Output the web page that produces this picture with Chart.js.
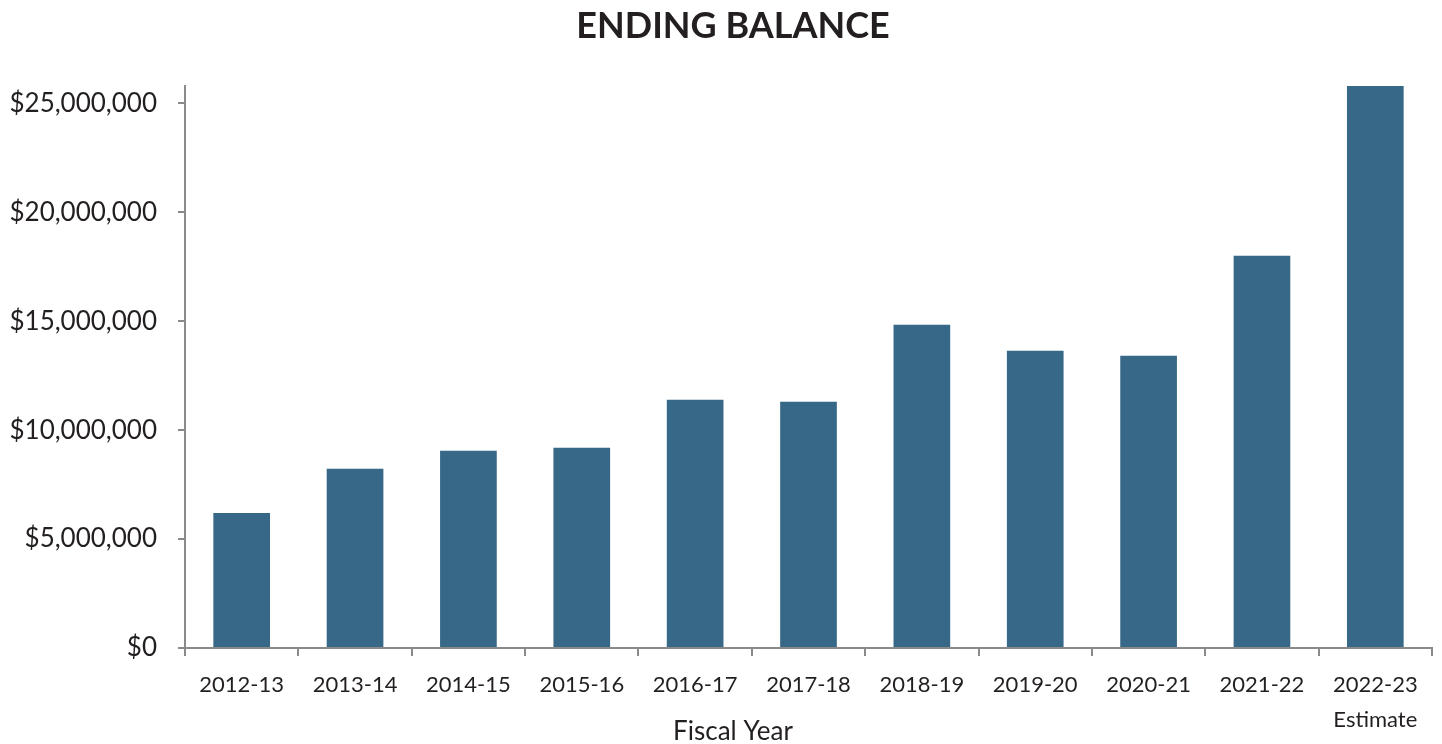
<!DOCTYPE html>
<html>
<head>
<meta charset="utf-8">
<script src="https://cdn.jsdelivr.net/npm/chart.js@4.4.1/dist/chart.umd.min.js"></script>
<style>
  html, body { margin: 0; padding: 0; background: #fff; }
  #wrap { width: 1442px; height: 744px; position: relative; }
</style>
</head>
<body>
<div id="wrap"><canvas id="js-canvas-balance"></canvas></div>
<script>
const fiscalYears = [
  '2012-13', '2013-14', '2014-15', '2015-16', '2016-17', '2017-18',
  '2018-19', '2019-20', '2020-21', '2021-22', ['2022-23', 'Estimate']
];
const endingBalance = [
  6200000, 8230000, 9050000, 9190000, 11400000, 11310000,
  14840000, 13650000, 13420000, 18010000, 25800000
];
const yTicks = [0, 5000000, 10000000, 15000000, 20000000, 25000000];

const chartTitle = 'ENDING BALANCE';
const xAxisTitle = 'Fiscal Year';

const FONT = 'Lato, "Open Sans", sans-serif';
const TEXT = '#231f20';
const AXIS = '#8a8a8a';

// title and axis caption share the same centre line
const captions = {
  id: 'captions',
  afterDraw (chart) {
    const c = chart.ctx;
    c.save();
    c.fillStyle = TEXT;
    c.textAlign = 'center';
    c.textBaseline = 'alphabetic';
    c.font = `bold 36px ${FONT}`;
    c.fillText(chartTitle, 733, 38);
    c.font = `26px ${FONT}`;
    c.fillText(xAxisTitle, 733, 740);
    c.restore();
  }
};

const ctx = document.getElementById('js-canvas-balance');
new Chart(ctx, {
  type: 'bar',
  data: {
    labels: fiscalYears,
    datasets: [
      {
        label: 'Ending Balance',
        data: endingBalance,
        backgroundColor: '#376887',
        borderWidth: 0,
        categoryPercentage: 1,
        barPercentage: 0.5
      }
    ]
  },
  options: {
    responsive: true,
    maintainAspectRatio: false,
    animation: false,
    layout: { padding: { top: 86, right: 10, bottom: 0, left: 0 } },
    plugins: {
      legend: { display: false },
      title: { display: false },
      tooltip: { enabled: false }
    },
    scales: {
      x: {
        afterFit (scale) { scale.height = 96; },
        border: { color: AXIS, width: 2 },
        grid: { drawOnChartArea: false, drawTicks: true, tickLength: 8, color: AXIS, lineWidth: 2 },
        ticks: {
          color: TEXT,
          padding: 11,
          maxRotation: 0,
          autoSkip: false,
          font: { family: FONT, size: 22, lineHeight: 1.6 }
        }
      },
      y: {
        min: 0,
        max: endingBalance[endingBalance.length - 1],
        afterFit (scale) { scale.width = 185; },
        afterBuildTicks (scale) { scale.ticks = yTicks.map(v => ({ value: v })); },
        border: { color: AXIS, width: 2 },
        grid: { drawOnChartArea: false, drawTicks: true, tickLength: 7, color: AXIS, lineWidth: 2 },
        ticks: {
          color: TEXT,
          padding: 21,
          includeBounds: false,
          font: { family: FONT, size: 26 },
          callback: v => '$' + Number(v).toLocaleString('en-US')
        }
      }
    }
  },
  plugins: [captions]
});
</script>
</body>
</html>
